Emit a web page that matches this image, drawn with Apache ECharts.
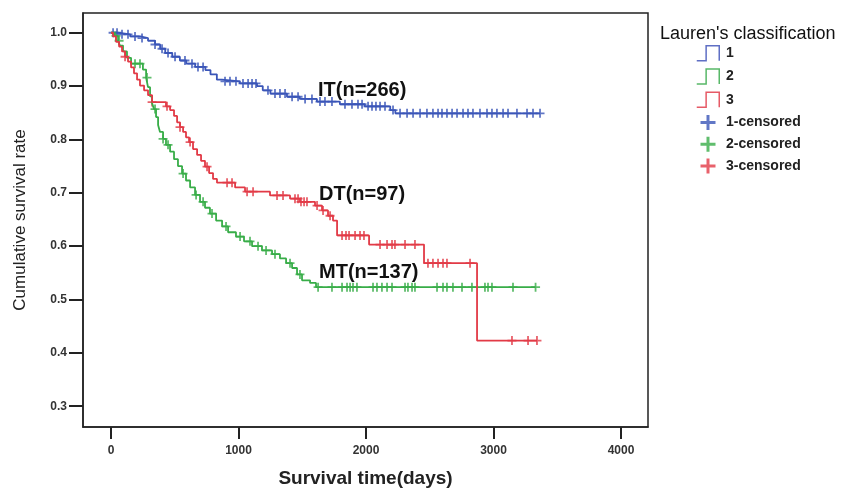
<!DOCTYPE html>
<html>
  <head>
    <meta charset="utf-8" />
    <title>Lauren's classification survival</title>
    <script src="https://cdn.jsdelivr.net/npm/echarts@6/dist/echarts.min.js"></script>
  </head>
  <body style="margin: 0; background: #fff;">
    <div id="km" style="width: 841px; height: 493px;"></div>
  </body>
  <script>
    // step points [days, survival]
    var itSteps = [
      [0, 1.0], [55, 0.997], [150, 0.993], [230, 0.99], [290, 0.985], [345, 0.978],
      [385, 0.97], [425, 0.962], [480, 0.955], [540, 0.948], [590, 0.942], [660, 0.936],
      [740, 0.93], [780, 0.922], [830, 0.912], [870, 0.909], [1010, 0.905], [1145, 0.9],
      [1190, 0.892], [1250, 0.886], [1380, 0.88], [1480, 0.876], [1615, 0.871],
      [1795, 0.866], [1990, 0.862], [2190, 0.855], [2230, 0.849], [3365, 0.849]
    ]
    var mtSteps = [
      [0, 1.0], [30, 0.994], [55, 0.985], [70, 0.976], [94, 0.965], [125, 0.953],
      [157, 0.942], [250, 0.931], [275, 0.916], [290, 0.898], [306, 0.881], [322, 0.868],
      [337, 0.857], [353, 0.842], [369, 0.827], [384, 0.814], [408, 0.801], [431, 0.79],
      [463, 0.777], [494, 0.763], [525, 0.75], [557, 0.736], [588, 0.723], [620, 0.71],
      [659, 0.696], [698, 0.683], [737, 0.672], [776, 0.661], [824, 0.648], [871, 0.637],
      [918, 0.626], [980, 0.618], [1043, 0.609], [1106, 0.6], [1184, 0.592], [1263, 0.585],
      [1325, 0.577], [1373, 0.568], [1420, 0.559], [1459, 0.547], [1498, 0.536],
      [1561, 0.531], [1608, 0.523], [3330, 0.523]
    ]
    var dtSteps = [
      [0, 1.0], [16, 0.993], [39, 0.983], [63, 0.974], [86, 0.965], [110, 0.955],
      [133, 0.946], [157, 0.935], [180, 0.924], [204, 0.912], [227, 0.901], [259, 0.892],
      [290, 0.883], [322, 0.87], [431, 0.862], [463, 0.855], [494, 0.844], [518, 0.832],
      [541, 0.823], [565, 0.814], [588, 0.804], [612, 0.795], [643, 0.782], [675, 0.771],
      [706, 0.76], [737, 0.749], [769, 0.737], [800, 0.726], [831, 0.719], [973, 0.71],
      [1051, 0.702], [1247, 0.695], [1404, 0.689], [1482, 0.683], [1600, 0.676],
      [1655, 0.667], [1702, 0.657], [1741, 0.648], [1773, 0.62], [2024, 0.603],
      [2455, 0.568], [2871, 0.423], [3341, 0.423]
    ]

    // censored times (days)
    var itCensored = [
      16, 47, 86, 133, 188, 243, 345, 400, 447, 502, 580, 635, 682, 722, 894, 933, 980,
      1035, 1075, 1106, 1137, 1231, 1286, 1325, 1365, 1420, 1467, 1522, 1576, 1639, 1678,
      1733, 1835, 1890, 1937, 1969, 2016, 2047, 2078, 2110, 2149, 2212, 2267, 2322, 2369,
      2424, 2478, 2525, 2565, 2596, 2635, 2675, 2714, 2761, 2800, 2839, 2894, 2949, 2988,
      3027, 3075, 3114, 3184, 3263, 3310, 3365
    ]
    var mtCensored = [
      39, 63, 188, 227, 282, 345, 408, 447, 565, 667, 722, 792, 902, 1012, 1090, 1153,
      1216, 1286, 1404, 1482, 1624, 1733, 1812, 1851, 1875, 1898, 1929, 2055, 2086, 2125,
      2165, 2204, 2306, 2329, 2361, 2384, 2557, 2604, 2635, 2682, 2753, 2831, 2933, 2957,
      2988, 3153, 3330
    ]
    var dtCensored = [
      110, 322, 439, 541, 620, 753, 910, 949, 1067, 1114, 1302, 1349, 1443, 1467, 1490,
      1514, 1537, 1616, 1663, 1718, 1812, 1843, 1867, 1914, 1953, 1984, 2110, 2165, 2204,
      2227, 2306, 2384, 2486, 2525, 2565, 2604, 2635, 2816, 3145, 3271, 3341
    ]

    var xTicks = [0, 1000, 2000, 3000, 4000]
    var yTicks = [0.3, 0.4, 0.5, 0.6, 0.7, 0.8, 0.9, 1.0]

    var blue = '#3a55b8'
    var green = '#38ad48'
    var red = '#e23a46'
    var plusIcon = 'path://M4,0 L6,0 L6,4 L10,4 L10,6 L6,6 L6,10 L4,10 L4,6 L0,6 L0,4 L4,4 Z'
    var stepIcon = 'path://M0,16 L10,16 L10,0 L24,0 L24,16'

    // survival value at time t from the step points
    function survAt(steps, t) {
      var s = steps[0][1]
      for (var i = 0; i < steps.length; i++) {
        if (steps[i][0] <= t) s = steps[i][1]
      }
      return s
    }
    function censorPoints(steps, times) {
      return times.map(function (t) {
        return [t, survAt(steps, t)]
      })
    }

    var font = 'Liberation Sans, Arial'
    var axisFont = { fontFamily: font, fontWeight: 'bold', fontSize: 12, color: '#333' }

    var myChart = echarts.init(document.getElementById('km'))
    var option = {
      animation: false,
      backgroundColor: '#fff',
      title: {
        text: "Lauren's classification",
        left: 655,
        top: 20,
        textStyle: { fontFamily: font, fontSize: 18, fontWeight: 'normal', color: '#111' }
      },
      legend: {
        orient: 'vertical',
        left: 696,
        top: 45,
        padding: 0,
        itemWidth: 26,
        itemHeight: 15,
        itemGap: 6.8,
        textStyle: { fontFamily: font, fontSize: 14, fontWeight: 'bold', color: '#222' },
        data: [
          { name: '1', icon: stepIcon, itemStyle: { color: 'transparent', borderColor: '#5f6fc4', borderWidth: 1.5 } },
          { name: '2', icon: stepIcon, itemStyle: { color: 'transparent', borderColor: '#58b868', borderWidth: 1.5 } },
          { name: '3', icon: stepIcon, itemStyle: { color: 'transparent', borderColor: '#e65a66', borderWidth: 1.5 } },
          { name: '1-censored', icon: plusIcon },
          { name: '2-censored', icon: plusIcon },
          { name: '3-censored', icon: plusIcon }
        ]
      },
      grid: {
        left: 83,
        top: 13,
        width: 565,
        height: 417,
        show: true,
        borderColor: '#222',
        borderWidth: 1.5
      },
      xAxis: {
        type: 'value',
        min: -220,
        max: 4212,
        name: 'Survival time(days)',
        nameLocation: 'middle',
        nameGap: 42,
        nameTextStyle: { fontFamily: font, fontSize: 19, fontWeight: 'bold', color: '#222' },
        axisLine: { show: true, onZero: false, lineStyle: { color: '#222', width: 1.5 } },
        axisTick: { show: true, length: 12, inside: false, customValues: xTicks, lineStyle: { color: '#222', width: 2 } },
        axisLabel: Object.assign({
          customValues: xTicks,
          margin: 18,
          formatter: function (v) { return String(v) }
        }, axisFont),
        splitLine: { show: false }
      },
      yAxis: {
        type: 'value',
        min: 0.261,
        max: 1.037,
        name: 'Cumulative survival rate',
        nameLocation: 'middle',
        nameGap: 54,
        nameTextStyle: { fontFamily: font, fontSize: 17, color: '#222' },
        axisLine: { show: true, onZero: false, lineStyle: { color: '#222', width: 1.5 } },
        axisTick: { show: true, length: 14, customValues: yTicks, lineStyle: { color: '#222', width: 2 } },
        axisLabel: Object.assign({
          customValues: yTicks,
          margin: 16,
          formatter: function (v) { return v.toFixed(1) }
        }, axisFont),
        splitLine: { show: false }
      },
      graphic: [
        { type: 'text', left: 318, top: 80, style: { text: 'IT(n=266)', font: 'bold 20px ' + font, fill: '#111' } },
        { type: 'text', left: 319, top: 184, style: { text: 'DT(n=97)', font: 'bold 20px ' + font, fill: '#111' } },
        { type: 'text', left: 319, top: 262, style: { text: 'MT(n=137)', font: 'bold 20px ' + font, fill: '#111' } }
      ],
      series: [
        { name: '1', type: 'line', step: 'end', data: itSteps, showSymbol: false, lineStyle: { color: blue, width: 1.8 }, itemStyle: { color: blue } },
        { name: '2', type: 'line', step: 'end', data: mtSteps, showSymbol: false, lineStyle: { color: green, width: 1.8 }, itemStyle: { color: green } },
        { name: '3', type: 'line', step: 'end', data: dtSteps, showSymbol: false, lineStyle: { color: red, width: 1.8 }, itemStyle: { color: red } },
        { name: '1-censored', type: 'scatter', data: censorPoints(itSteps, itCensored), symbol: plusIcon, symbolSize: 9, itemStyle: { color: blue } },
        { name: '2-censored', type: 'scatter', data: censorPoints(mtSteps, mtCensored), symbol: plusIcon, symbolSize: 9, itemStyle: { color: green } },
        { name: '3-censored', type: 'scatter', data: censorPoints(dtSteps, dtCensored), symbol: plusIcon, symbolSize: 9, itemStyle: { color: red } }
      ]
    }
    option && myChart.setOption(option)
  </script>
</html>
